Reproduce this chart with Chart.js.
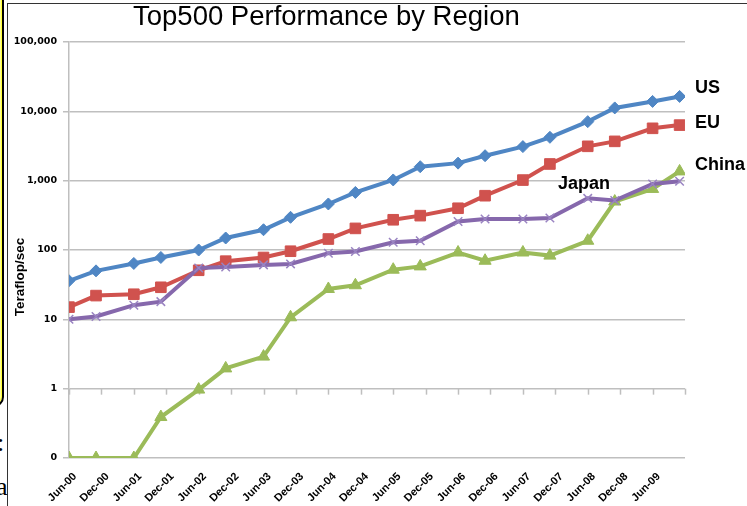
<!DOCTYPE html>
<html>
<head>
<meta charset="utf-8">
<title>Top500 Performance by Region</title>
<script src="https://cdn.jsdelivr.net/npm/chart.js@4"></script>
<style>
  html, body { margin: 0; padding: 0; background: #fff; }
  #wrap { position: relative; width: 747px; height: 506px; overflow: hidden; }
  #frame { position: absolute; left: 7px; top: 3px; right: -10px; bottom: -10px;
           border-left: 1.5px solid #333; border-top: 1.5px solid #333; }
  #note { position: absolute; left: -40px; top: -20px; width: 40px; height: 423px;
          border: 2px solid #000; border-radius: 10px; box-shadow: 0 0 0 1.5px #ffff33 inset; }
  .bg { position: absolute; font-family: "Liberation Serif", serif; font-size: 26px; color: #000; }
  canvas { position: absolute; left: 0; top: 0; }
</style>
</head>
<body>
<div id="wrap">
  <div id="frame"></div>
  <div id="note"></div>
  <span class="bg" style="left:-3px; top:428px;">:</span>
  <span class="bg" style="left:-4px; top:472px;">a</span>
  <canvas id="chart" width="747" height="506"></canvas>
</div>
<script>
// months since Jun-2000 of each Top500 list (June / November)
const listMonths = [0, 5, 12, 17, 24, 29, 36, 41, 48, 53, 60, 65, 72, 77, 84, 89, 96, 101, 108, 113];

const usValues = [36, 50, 64, 78, 100, 149, 196, 296, 461, 676, 1024, 1590, 1790, 2290, 3100, 4220, 7100, 11200, 13900, 16400];
const euValues = [15, 22, 23, 29, 51, 69, 78, 96, 144, 205, 273, 313, 400, 607, 1020, 1740, 3130, 3690, 5690, 6330];
const japanValues = [10, 11, 16, 18, 55, 57, 61, 63, 90, 95, 129, 136, 257, 280, 280, 290, 556, 517, 894, 980];
const chinaValues = [0.1, 0.1, 0.1, 0.39, 0.97, 1.96, 2.9, 10.7, 27.4, 31, 52, 58, 92, 70, 92, 83, 136, 500, 760, 1360];

const xTickLabels = ['Jun-00', 'Dec-00', 'Jun-01', 'Dec-01', 'Jun-02', 'Dec-02', 'Jun-03', 'Dec-03', 'Jun-04', 'Dec-04',
  'Jun-05', 'Dec-05', 'Jun-06', 'Dec-06', 'Jun-07', 'Dec-07', 'Jun-08', 'Dec-08', 'Jun-09'];
const yTickValues = [0.1, 1, 10, 100, 1000, 10000, 100000];
const yTickLabels = ['0', '1', '10', '100', '1,000', '10,000', '100,000'];

const colors = {
  us: '#4F86C4',
  eu: '#D0524E',
  china: '#9BBB59',
  japan: '#8668AC',
};

const toPoints = (values) => values.map((v, i) => ({ x: listMonths[i], y: v }));

// tick marks hang off the "1" gridline like in the original
const crossTicks = {
  id: 'crossTicks',
  beforeDatasetsDraw(chart) {
    const { ctx, scales } = chart;
    const y1 = scales.y.getPixelForValue(1);
    ctx.save();
    ctx.strokeStyle = '#BFBFBF';
    ctx.lineWidth = 1.5;
    scales.x.ticks.forEach((t) => {
      const px = Math.round(scales.x.getPixelForValue(t.value)) + 0.5;
      ctx.beginPath();
      ctx.moveTo(px, y1);
      ctx.lineTo(px, y1 + 6);
      ctx.stroke();
    });
    ctx.restore();
  },
};

// title, axis title and series names
const annotations = {
  id: 'annotations',
  afterDraw(chart) {
    const ctx = chart.ctx;
    ctx.save();
    ctx.fillStyle = '#000';
    ctx.textBaseline = 'alphabetic';
    ctx.textAlign = 'left';

    ctx.font = '27.5px "Liberation Sans", Arial, sans-serif';
    ctx.fillText('Top500 Performance by Region', 133, 25);

    ctx.font = 'bold 18px "Liberation Sans", Arial, sans-serif';
    ctx.fillText('US', 695, 93);
    ctx.fillText('EU', 695, 128);
    ctx.fillText('China', 695, 170);
    ctx.fillText('Japan', 558, 189);

    ctx.translate(24, 277);
    ctx.rotate(-Math.PI / 2);
    ctx.textAlign = 'center';
    ctx.font = 'bold 13.5px "Liberation Sans", Arial, sans-serif';
    ctx.fillText('Teraflop/sec', 0, 0);
    ctx.restore();
  },
};

new Chart(document.getElementById('chart'), {
  type: 'line',
  data: {
    datasets: [
      {
        label: 'US',
        data: toPoints(usValues),
        borderColor: colors.us,
        backgroundColor: colors.us,
        pointStyle: 'rectRot',
        pointRadius: 6,
        order: 3,
      },
      {
        label: 'EU',
        data: toPoints(euValues),
        borderColor: colors.eu,
        backgroundColor: colors.eu,
        pointStyle: 'rect',
        pointRadius: 7.5,
        order: 2,
      },
      {
        label: 'China',
        data: toPoints(chinaValues),
        borderColor: colors.china,
        backgroundColor: colors.china,
        pointStyle: 'triangle',
        pointRadius: 7,
        order: 1,
      },
      {
        label: 'Japan',
        data: toPoints(japanValues),
        borderColor: colors.japan,
        backgroundColor: colors.japan,
        pointBorderColor: '#9A84C2',
        pointBorderWidth: 1.5,
        pointStyle: 'crossRot',
        pointRadius: 6,
        order: 0,
      },
    ],
  },
  options: {
    responsive: false,
    animation: false,
    layout: {
      padding: { left: 0, top: 42, right: 62, bottom: 0 },
    },
    elements: {
      line: { borderWidth: 4, tension: 0 },
      point: { borderWidth: 1 },
    },
    plugins: {
      legend: { display: false },
      title: { display: false },
      tooltip: { enabled: false },
    },
    scales: {
      x: {
        type: 'linear',
        min: 0,
        max: 114,
        afterFit: (scale) => { scale.height = 48; },
        grid: { display: false, drawTicks: false },
        border: { display: false },
        ticks: {
          stepSize: 6,
          autoSkip: false,
          minRotation: 45,
          maxRotation: 45,
          padding: 12,
          labelOffset: 6,
          color: '#000',
          font: { family: '"Liberation Sans", Arial, sans-serif', size: 11, weight: 'bold' },
          callback: (value, index) => xTickLabels[index] ?? '',
        },
      },
      y: {
        type: 'logarithmic',
        min: 0.1,
        max: 100000,
        afterFit: (scale) => { scale.width = 69; },
        afterBuildTicks: (scale) => {
          scale.ticks = yTickValues.map((v) => ({ value: v }));
        },
        grid: { color: '#BFBFBF', lineWidth: 1.5, tickLength: 6 },
        border: { display: true, color: '#BFBFBF', width: 1.5 },
        ticks: {
          padding: 6,
          color: '#000',
          font: { family: '"DejaVu Sans", Verdana, sans-serif', size: 9.5, weight: 'bold' },
          callback: (value, index) => yTickLabels[index],
        },
      },
    },
  },
  plugins: [crossTicks, annotations],
});
</script>
</body>
</html>
